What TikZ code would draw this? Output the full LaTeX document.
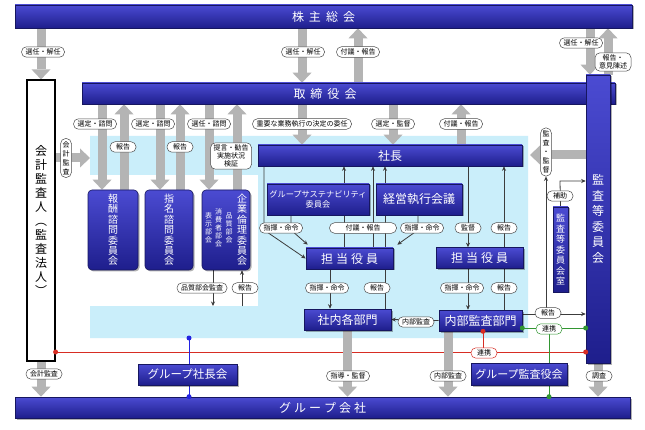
\documentclass[tikz,border=0pt]{standalone}
\usepackage{fontspec}
\setmainfont{Noto Sans CJK JP}
\usetikzlibrary{arrows.meta,shadows}
\definecolor{lblue}{RGB}{202,238,250}
\definecolor{btop}{RGB}{75,75,210}
\definecolor{bbot}{RGB}{30,30,140}
\definecolor{bdraw}{RGB}{22,22,95}
\definecolor{agray}{RGB}{180,180,180}
\definecolor{lgray}{RGB}{60,60,60}
\definecolor{redl}{RGB}{215,45,35}
\definecolor{greenl}{RGB}{50,150,50}
\definecolor{bluel}{RGB}{35,35,225}
\pgfdeclarelayer{bg}
\pgfdeclarelayer{ln}
\pgfsetlayers{bg,ln,main}
\newcommand{\gpA}{\hspace{3pt}}
\newcommand{\gpB}{\hspace{5pt}}
\tikzset{
  bluebox/.style={draw=bdraw, line width=0.6pt, top color=btop, bottom color=bbot,
    text=white, inner sep=0pt,
    drop shadow={shadow xshift=1.5pt, shadow yshift=-1.5pt, fill=black, opacity=0.3}},
  bbar/.style={bluebox, font=\fontsize{12}{14}\selectfont},
  comm/.style={bluebox, rounded corners=4pt, align=center, font=\fontsize{10}{10.4}\selectfont},
  wtxt/.style={text=white, align=center, inner sep=0pt},
  lab/.style={draw=black!70, fill=white, rounded corners=5pt, font=\fontsize{7}{8}\selectfont,
    inner xsep=4pt, inner ysep=2pt, line width=0.5pt, align=center},
  labw/.style={lab, minimum width=26pt},
  vlab/.style={lab, font=\fontsize{7}{9}\selectfont, inner xsep=2pt, inner ysep=3pt, rounded corners=5.5pt},
  garrow/.style={draw=agray, line width=9pt, -{Triangle[length=10pt,width=19pt,line width=0pt]}},
  conn/.style={draw=lgray, line width=0.8pt, -{Stealth[length=4.5pt,width=4pt]}},
  plainln/.style={draw=lgray, line width=0.8pt},
  colln/.style={line width=0.8pt}
}
\begin{document}
\begin{tikzpicture}[x=1pt,y=-1pt]
\begin{pgfonlayer}{bg}
\fill[white] (0,0) rectangle (645,430);
\fill[lblue] (90,136) -- (528,136) -- (528,338) -- (90,338) -- (90,306) -- (258,306) -- (258,175) -- (90,175) -- cycle;
\end{pgfonlayer}
\useasboundingbox (0,0) rectangle (645,430);

% main boxes
\node[bbar, minimum width=617pt, minimum height=23pt] (sh) at (323.5,16.5) {株\gpB 主\gpB 総\gpB 会};
\node[bbar, minimum width=533pt, minimum height=21pt,
  label={[wtxt, font=\fontsize{12}{14}\selectfont, xshift=-23.5pt]center:取\gpB 締\gpB 役\gpB 会}] (tb) at (348.5,93.5) {};
\node[bbar, minimum width=24pt, minimum height=288pt, align=center, font=\fontsize{12}{15.5}\selectfont] (ak) at (598,219) {監\\査\\等\\委\\員\\会};
\node[draw=black, line width=1.2pt, fill=white, minimum width=28pt, minimum height=281pt, inner sep=0pt, align=center, font=\fontsize{12}{14}\selectfont] (ka) at (41,220.5) {会\\計\\監\\査\\人\\︵\\監\\査\\法\\人\\︶};
\node[bbar, minimum width=615pt, minimum height=21pt] (gk) at (322.5,407.5) {グ\gpA ル\gpA ー\gpA プ\gpA 会\gpA 社};

% committees
\node[comm, minimum width=50pt, minimum height=80pt] (c1) at (113,230) {報\\酬\\諮\\問\\委\\員\\会};
\node[comm, minimum width=48pt, minimum height=80pt] (c2) at (169,230) {指\\名\\諮\\問\\委\\員\\会};
\node[comm, minimum width=48pt, minimum height=80pt,
  label={[wtxt, font=\fontsize{10}{10.4}\selectfont, xshift=16pt]center:企\\業\\倫\\理\\委\\員\\会},
  label={[wtxt, font=\fontsize{7}{8}\selectfont, anchor=north, xshift=3pt, yshift=2pt]center:品\\質\\部\\会},
  label={[wtxt, font=\fontsize{7}{8}\selectfont, anchor=north, xshift=-7.5pt, yshift=2pt]center:消\\費\\者\\部\\会},
  label={[wtxt, font=\fontsize{7}{8}\selectfont, anchor=north, xshift=-17.5pt, yshift=2pt]center:表\\示\\部\\会}] (c3) at (226,230) {};

% executive area
\node[bbar, minimum width=264pt, minimum height=21pt] (sha) at (390,155.5) {社長};
\node[bluebox, minimum width=102pt, minimum height=31pt, align=center, font=\fontsize{8.2}{10}\selectfont] (gs) at (318,199.5) {グループサステナビリティ\\委員会};
\node[bbar, minimum width=86pt, minimum height=31pt] (ke) at (419,199.5) {経営執行会議};
\node[bbar, minimum width=87pt, minimum height=21pt] (tl) at (349.5,258.5) {担\gpA 当\gpA 役\gpA 員};
\node[bbar, minimum width=87pt, minimum height=21pt] (tr) at (479.5,258) {担\gpA 当\gpA 役\gpA 員};
\node[bbar, minimum width=87pt, minimum height=21pt] (sn) at (347.5,319.5) {社内各部門};
\node[bbar, minimum width=83pt, minimum height=21pt] (nb) at (480.5,320.5) {内部監査部門};
\node[bbar, minimum width=99pt, minimum height=21pt, font=\fontsize{11.5}{13}\selectfont] (gsk) at (187.5,374.5) {グループ社長会};
\node[bbar, minimum width=96pt, minimum height=22pt, font=\fontsize{11}{13}\selectfont] (gka) at (519,374) {グループ監査役会};
\node[bluebox, minimum width=15pt, minimum height=85pt, align=center, font=\fontsize{9}{10.5}\selectfont] (aks) at (560.5,249.5) {監\\査\\等\\委\\員\\会\\室};

% labels
\node[lab] (l01) at (43,52) {選任・解任};
\node[lab] (l02) at (303,52) {選任・解任};
\node[lab] (l03) at (358,52) {付議・報告};
\node[lab] (l04) at (581,43) {選任・解任};
\node[lab] (l05) at (613,62) {報告・\\意見陳述};
\node[lab] (l06) at (95,124) {選定・諮問};
\node[labw] (l07) at (123,147) {報告};
\node[lab] (l08) at (153,124) {選定・諮問};
\node[labw] (l09) at (180,147) {報告};
\node[lab] (l10) at (209,124) {選任・諮問};
\node[lab, inner xsep=3pt] (l11) at (231,156) {提言・勧告\\実施状況\\検証};
\node[lab] (l12) at (302,124) {重要な業務執行の決定の委任};
\node[lab] (l13) at (393,124) {選定・監督};
\node[lab] (l14) at (461,124) {付議・報告};
\node[vlab] (l15) at (66,158) {会\\計\\監\\査};
\node[vlab] (l16) at (546,152) {監\\査\\・\\監\\督};
\node[lab] (l17) at (281,228) {指揮・命令};
\node[lab, minimum width=67pt] (l18) at (363,228) {付議・報告};
\node[lab] (l19) at (422,228) {指揮・命令};
\node[labw] (l20) at (468,228) {監督};
\node[labw] (l21) at (504,228) {報告};
\node[lab] (l22) at (327,288) {指揮・命令};
\node[labw] (l23) at (377,288) {報告};
\node[lab] (l24) at (462,288) {指揮・命令};
\node[labw] (l25) at (504,288) {報告};
\node[lab] (l26) at (416,322) {内部監査};
\node[labw] (l27) at (548,313) {報告};
\node[labw] (l28) at (560,196) {補助};
\node[labw, draw=greenl] (l29) at (549,329) {連携};
\node[labw, draw=redl] (l30) at (484,353) {連携};
\node[lab] (l31) at (202,288) {品質部会監査};
\node[labw] (l32) at (245,288) {報告};
\node[lab] (l33) at (44,374) {会計監査};
\node[lab] (l34) at (348,376) {指導・監督};
\node[lab] (l35) at (448,376) {内部監査};
\node[labw] (l36) at (599,376) {調査};

% helper coordinates
\coordinate (xA) at (302,0); \coordinate (xB) at (358,0);
\coordinate (xC) at (590,0); \coordinate (xD) at (608,0);
\coordinate (d1) at (102,0); \coordinate (u1) at (124,0);
\coordinate (d2) at (160,0); \coordinate (u2) at (180,0);
\coordinate (d3) at (209,0); \coordinate (u3) at (237,0);
\coordinate (xS) at (393,0); \coordinate (xT) at (461,0);
\coordinate (xG) at (448,0);
\coordinate (kaTo) at (90,158); \coordinate (kkTo) at (530,155);
\coordinate (k1) at (264,230); \coordinate (k2) at (291,230); \coordinate (k3) at (418,230);
\coordinate (p344) at (344,0); \coordinate (p373) at (373,0); \coordinate (p385) at (385,0);
\coordinate (p468) at (468,0); \coordinate (p504) at (504,0); \coordinate (p330) at (330,0);
\coordinate (hy) at (0,314); \coordinate (h1) at (560,181);
\coordinate (ry) at (0,352); \coordinate (xR) at (483,0);
\coordinate (gy) at (0,328); \coordinate (xGr) at (549,0);
\coordinate (bb) at (189,338);
\coordinate (p213) at (213,0); \coordinate (p242) at (242,0); \coordinate (bly) at (0,306);

\begin{pgfonlayer}{ln}
% grey block arrows
\draw[garrow] (sh.south -| ka.north) -- (ka.north);
\draw[garrow] (sh.south -| xA) -- (tb.north -| xA);
\draw[garrow] (tb.north -| xB) -- (sh.south -| xB);
\draw[garrow] (sh.south -| xC) -- (ak.north -| xC);
\draw[garrow] (ak.north -| xD) -- (sh.south -| xD);
\draw[garrow] (tb.south -| d1) -- (c1.north -| d1);
\draw[garrow] (c1.north -| u1) -- (tb.south -| u1);
\draw[garrow] (tb.south -| d2) -- (c2.north -| d2);
\draw[garrow] (c2.north -| u2) -- (tb.south -| u2);
\draw[garrow] (tb.south -| d3) -- (c3.north -| d3);
\draw[garrow] (c3.north -| u3) -- (tb.south -| u3);
\draw[garrow] (tb.south -| xA) -- (sha.north -| xA);
\draw[garrow] (tb.south -| xS) -- (sha.north -| xS);
\draw[garrow] (sha.north -| xT) -- (tb.south -| xT);
\draw[garrow] (ka.east |- kaTo) -- (kaTo);
\draw[garrow] (ak.west |- kkTo) -- (kkTo);
% coloured links
\draw[colln, redl] (ka.east |- ry) -- (ak.west |- ry);
\draw[colln, redl] (nb.south -| xR) -- (xR |- ry);
\draw[colln, greenl] (nb.east |- gy) -- (ak.west |- gy);
\draw[colln, greenl] (xGr |- gy) -- (gk.north -| xGr);
\draw[colln, bluel] (bb) -- (gk.north -| bb);
% grey block arrows to group companies
\draw[garrow] (ka.south) -- (gk.north -| ka.south);
\draw[garrow] (sn.south) -- (gk.north -| sn.south);
\draw[garrow] (nb.south -| xG) -- (gk.north -| xG);
\draw[garrow] (ak.south) -- (gk.north -| ak.south);
% thin connectors
\draw[conn] (sha.south -| k1) -- (k1) -- (tl.west);
\draw[conn] (gs.south -| k2) -- (k2) -- ([shift={(2pt,3pt)}]tl.north west);
\draw[conn] (ke.south -| k3) -- (k3) -- ([shift={(4pt,3pt)}]tl.north east);
\draw[conn] (tl.north -| p344) -- (sha.south -| p344);
\draw[conn] (tl.north -| p373) -- (sha.south -| p373);
\draw[conn] (sn.north -| p385) -- (sha.south -| p385);
\draw[conn] (sha.south -| p468) -- (tr.north -| p468);
\draw[conn] (tr.north -| p504) -- (sha.south -| p504);
\draw[conn] (tl.south -| p330) -- (sn.north -| p330);
\draw[conn] (tr.south -| p468) -- (nb.north -| p468);
\draw[plainln] (nb.north -| p504) -- (tr.south -| p504);
\draw[conn] (nb.west) -- (sn.east);
\draw[conn] (nb.east |- hy) -- (ak.west |- hy);
\draw[conn] (l16.south |- hy) -- (l16.south);
\draw[conn] (aks.north) -- (h1) -- (ak.west |- h1);
\draw[conn] (c3.south -| p213) -- (p213 |- bly);
\draw[conn] (p242 |- bly) -- (c3.south -| p242);
\end{pgfonlayer}

% dots
\fill[redl] (ka.east |- ry) circle (2.5pt);
\fill[redl] (ak.west |- ry) circle (2.5pt);
\fill[redl] (nb.south -| xR) circle (2.5pt);
\fill[greenl] (nb.east |- gy) circle (2.5pt);
\fill[greenl] (ak.west |- gy) circle (2.5pt);
\fill[greenl] (gk.north -| xGr) circle (2.5pt);
\fill[bluel] (bb) circle (2.5pt);
\fill[bluel] (gk.north -| bb) circle (2.5pt);
\end{tikzpicture}
\end{document}
